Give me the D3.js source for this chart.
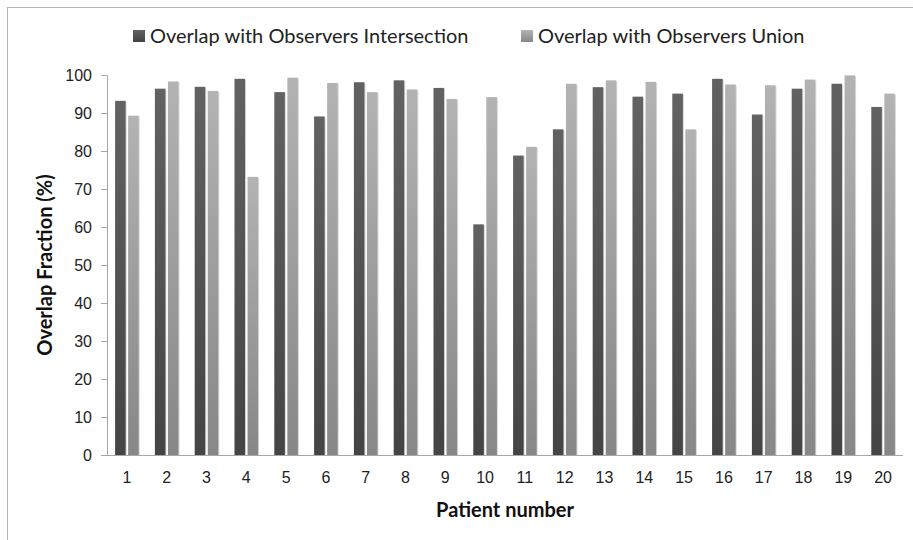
<!DOCTYPE html>
<html lang="en">
<head>
<meta charset="UTF-8">
<script src="https://d3js.org/d3.v7.min.js"></script>
<style>
  body { margin: 0; background: #fff; }
  svg { display: block; font-family: Lato, "Open Sans", sans-serif; }
  .tick text { fill: #222; font-size: 16px; }
  .axis path, .axis line { stroke: #a6a6a6; }
  .title { font-weight: bold; font-size: 20px; fill: #111; }
  .legend text { font-size: 20px; fill: #222; }
</style>
</head>
<body>
<svg class="chart"></svg>
<script>

const patients = d3.range(1, 21).map(String);
const intersection = [93.2, 96.4, 96.9, 99.0, 95.5, 89.1, 98.1, 98.6, 96.6, 60.7,
                      78.8, 85.7, 96.8, 94.3, 95.1, 99.0, 89.6, 96.4, 97.7, 91.6];
const union = [89.3, 98.3, 95.8, 73.2, 99.3, 97.9, 95.5, 96.2, 93.7, 94.2,
               81.1, 97.7, 98.6, 98.2, 85.7, 97.5, 97.3, 98.8, 99.9, 95.1];
const seriesNames = ["Overlap with Observers Intersection", "Overlap with Observers Union"];
const yTicks = [0, 10, 20, 30, 40, 50, 60, 70, 80, 90, 100];

const W = 913, H = 540;
const margin = {top: 75, right: 10, bottom: 85, left: 107},
    width = 903 - margin.left,
    height = 455 - margin.top;

const svg = d3.select(".chart")
    .attr("width", W)
    .attr("height", H);

// outer frame (cropped at the right and bottom)
svg.append("rect")
    .attr("x", 7.5).attr("y", 7.5)
    .attr("width", W + 20).attr("height", H + 20)
    .attr("fill", "none")
    .attr("stroke", "#b5b5b5");

const defs = svg.append("defs");
const grads = [["gDark", "#626262", "#444444"], ["gLight", "#b3b3b3", "#878787"]];
grads.forEach(([id, top, bot]) => {
  const g = defs.append("linearGradient").attr("id", id)
      .attr("x1", 0).attr("y1", 0).attr("x2", 0).attr("y2", 1);
  g.append("stop").attr("offset", "0%").attr("stop-color", top);
  g.append("stop").attr("offset", "100%").attr("stop-color", bot);
});
const fills = ["url(#gDark)", "url(#gLight)"];

const g = svg.append("g")
    .attr("transform", `translate(${margin.left},${margin.top})`);

const x0 = d3.scaleBand().domain(patients).range([0, width]);
const x1 = d3.scaleBand().domain([0, 1])
    .range([0, x0.bandwidth()])
    .paddingInner(0.19)
    .paddingOuter(0.62);
const y = d3.scaleLinear().domain([0, 100]).range([height, 0]);

// y axis
g.append("g")
    .attr("class", "axis y")
    .call(d3.axisLeft(y).tickValues(yTicks).tickSize(6).tickPadding(5).tickSizeOuter(0))
    .call(s => s.selectAll("text").attr("dx", -4));

// bars
const data = patients.map((p, i) => ({p, vals: [intersection[i], union[i]]}));
const groups = g.selectAll(".grp")
  .data(data)
  .enter().append("g")
    .attr("class", "grp")
    .attr("transform", d => `translate(${x0(d.p)},0)`);

// faint shadow
groups.selectAll(".shadow")
  .data(d => d.vals)
  .enter().append("rect")
    .attr("class", "shadow")
    .attr("x", (d, i) => x1(i) + 1)
    .attr("y", d => y(d) + 1)
    .attr("width", x1.bandwidth())
    .attr("height", d => height - y(d) - 1)
    .attr("fill", "#d8d8d8");

groups.selectAll(".bar")
  .data(d => d.vals)
  .enter().append("rect")
    .attr("class", "bar")
    .attr("x", (d, i) => x1(i))
    .attr("y", d => y(d))
    .attr("width", x1.bandwidth())
    .attr("height", d => height - y(d))
    .attr("fill", (d, i) => fills[i]);

// x axis
const xAx = g.append("g")
    .attr("class", "axis x")
    .attr("transform", `translate(0,${height})`)
    .call(d3.axisBottom(x0).tickSize(0).tickPadding(17).tickSizeOuter(0));
xAx.select(".domain").attr("d", `M-6,0.5H${width}`);

// axis titles
svg.append("text")
    .attr("class", "title")
    .attr("text-anchor", "middle")
    .attr("transform", `translate(52,${margin.top + height / 2}) rotate(-90)`)
    .text("Overlap Fraction (%)");

svg.append("text")
    .attr("class", "title")
    .attr("text-anchor", "middle")
    .attr("x", 505).attr("y", 517)
    .text("Patient number");

// legend
const legendX = [133, 521];
const legend = svg.append("g").attr("class", "legend")
  .selectAll("g")
  .data(seriesNames)
  .enter().append("g")
    .attr("transform", (d, i) => `translate(${legendX[i]},30)`);
legend.append("rect")
    .attr("width", 12).attr("height", 12)
    .attr("fill", (d, i) => fills[i]);
legend.append("text")
    .attr("x", 17).attr("y", 13)
    .text(d => d);

</script>
</body>
</html>
